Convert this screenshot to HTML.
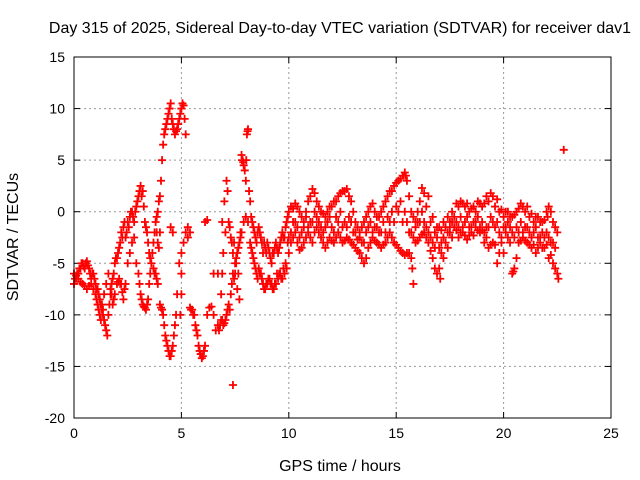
<!DOCTYPE html>
<html><head><meta charset="utf-8"><style>
body{margin:0;background:#fff;}
svg{display:block;font-family:"Liberation Sans",sans-serif;}
</style></head><body>
<svg id="chart" width="640" height="480">
<rect width="640" height="480" fill="#fff"/>
<text x="340" y="33" text-anchor="middle" font-size="16" fill="#000">Day 315 of 2025, Sidereal Day-to-day VTEC variation (SDTVAR) for receiver dav1</text>
<g id="grid"></g>
<g id="ticks"></g>
<g id="points"></g>
<rect x="74" y="57" width="537" height="361" fill="none" stroke="#000" stroke-width="1"/>
<text x="18" y="237" text-anchor="middle" font-size="16" transform="rotate(-90 18 237)">SDTVAR / TECUs</text>
<text x="340" y="471" text-anchor="middle" font-size="16">GPS time / hours</text>
</svg>
<script>
const xTicks=[0,5,10,15,20,25];
const yTicks=[15,10,5,0,-5,-10,-15,-20];
const t1=[0,0.1,0.2,0.3,0.4,0.5,0.6,0.7,0.8,0.9,1.0,1.1,1.2,1.3,1.4,1.5,1.6,1.7,1.8,1.9,2.0,2.1,2.2,2.3,2.4,2.5,2.6,2.7,2.8,2.9,3.0,3.1,3.2,3.3,3.4,3.5,3.6,3.7,3.8,3.9,4.0,4.05,4.1,4.15,4.2,4.3,4.4,4.5,4.55,4.6,4.7,4.8,4.9,5.0,5.1,5.15,5.2];
const v1=[-7,-6.5,-6,-5.5,-5,-5.5,-4.8,-5.5,-6.5,-6,-7,-7.5,-8.5,-9.5,-10.5,-11.5,-10,-8,-6.5,-5,-4.5,-3.5,-2,-1.5,-2.5,-1,-0.5,0,-1,0.5,1.5,2.5,2,-1,-2,-4,-5,-3,-1,0,1.5,3,5,6.5,7.5,8.5,9.5,10.5,9,8.5,7.5,8,9,10,10.3,9,7.5];
const t1b=[0.05,0.15,0.25,0.35,0.45,0.55,0.65,0.75,0.85,0.95,1.05,1.15,1.25,1.35,1.45,1.55,1.65,1.75,1.85,1.95,2.05,2.15,2.25,2.35,2.45,2.55,2.65,2.75,2.85,2.95,3.05,3.15,3.25,3.35,3.45,3.55,3.65,3.75,3.85,3.95,4.25,4.35,4.45,4.65,4.75,4.85,4.95,5.05];
const v1b=[-6.5,-6,-5.5,-5,-5.3,-5,-5.2,-6,-6,-6.5,-7.5,-8,-9,-10,-11,-12,-9,-7,-6,-4.5,-4,-3,-2.5,-1,-2,-1.5,0,-0.5,0,1,2,1.5,0.5,-1.5,-3,-4.5,-4,-2,-0.5,1,8,9,10,8,7.8,8.5,9.5,10.5];
const t2=[0,0.2,0.4,0.6,0.8,1.0,1.1,1.2,1.3,1.4,1.5,1.6,1.7,1.8,1.9,2.0,2.1,2.2,2.3,2.4,2.5,2.6,2.7,2.8,2.9,3.0,3.1,3.2,3.3,3.4,3.5,3.6,3.7,3.8,3.9,4.0,4.1,4.2,4.3,4.4,4.5,4.6,4.7,4.8,4.9,5.0,5.1,5.2,5.3,3.85,3.9,3.95,4.0,4.5,4.6,5.0,5.0,4.95];
const v2=[-6,-6.5,-7,-7.5,-7,-8,-9,-10,-9,-8,-7,-6,-7.5,-9,-8,-7,-6.5,-7,-8.5,-7,-5,-4,-3,-2.5,-5,-6,-8,-9,-9.3,-9,-7,-5,-5.5,-6,-7,-9,-9.5,-11,-12.5,-13.5,-14,-13,-11,-8,-5,-4,-3,-2,-2.5,-2,-3,-3.5,-2,-1.5,-2,-6,-8,-10];
const t2b=[0.1,0.3,0.5,0.7,0.9,1.05,1.15,1.25,1.35,1.75,1.85,2.05,2.15,2.25,2.35,3.05,3.15,3.25,3.35,3.45,3.55,3.75,3.85,4.05,4.15,4.25,4.35,4.45,4.55,4.65,4.75];
const v2b=[-6.2,-6.8,-7.2,-7.2,-7.5,-8.5,-9.5,-10.5,-9.5,-8,-8.5,-6.8,-7,-7.8,-7.5,-7,-8.5,-9.2,-9.5,-8.5,-6,-6,-6.5,-9.3,-10,-12,-13,-14,-13.5,-12,-10];
const t3=[5.4,5.5,5.6,5.7,5.8,5.9,6.0,6.1,6.2,6.3,6.4,6.5,6.6,6.7,6.8,6.9,7.0,7.1,7.2,7.3,7.4,7.5,7.6,7.7,7.8,7.9,8.0,8.1,8.2,8.3,8.4,8.5,8.6,8.7,8.8,8.9,9.0,9.1,9.2,9.3,9.4,9.5,9.6,9.7,9.8,9.9,10.0,7.4];
const v3=[-9.3,-9.5,-10,-11.5,-13,-13.8,-14,-13,-10,-9.3,-9.2,-10,-11.5,-11,-11,-10.5,-10.8,-10,-9,-8,-6,-5,-4,-3,-2,-1,-0.5,-1,-3,-4,-5,-6,-5.5,-6,-7,-7.5,-7,-6.5,-7,-7.5,-7,-6.5,-6,-6.5,-6,-5.5,-4,-16.8];
const t3b=[5.45,5.55,5.65,5.75,5.85,5.95,6.05,6.75,6.85,6.95,7.05,7.15,7.25,7.35,7.45,7.55,7.65,7.75,8.25,8.35,8.45,8.55,8.65,8.75,8.85,8.95,9.05,9.15,9.25,9.35,9.45,9.55,9.65,9.75,9.85,9.95];
const v3b=[-9.5,-10,-11,-12,-13.5,-14.2,-13.5,-11.5,-10.5,-11,-10.5,-9.5,-9.5,-7,-6.5,-4.5,-3.5,-2.5,-3.5,-4.5,-5.5,-6.5,-6,-6.5,-7.5,-7,-6.5,-7,-7.5,-7,-6,-6,-6.5,-5.5,-5,-3];
const t4=[5.3,5.4,6.1,6.2,6.5,6.7,6.9,7.0,7.1,7.15,7.2,7.3,7.4,7.5,7.6,7.7,7.8,7.85,7.9,7.95,8.0,8.05,8.1,8.15,8.2,8.3,8.4,8.5,8.6,8.7,8.8,8.9,9.0,9.1,9.2,9.3,9.4,9.5,9.6,9.7,9.8,9.9,10.0,6.85,6.9,6.95,7.05];
const v4=[-1.5,-2,-1,-0.8,-6,-6,-1,1,3,2,-1,-2.5,-4,-6,-7.5,-8.5,5.5,5,4.5,4,3,7.5,8,2,1,-1,-2,-3,-1.5,-2.5,-4,-3.5,-3,-4,-5,-4,-3,-4,-3,-2,-2.5,-1,0,-8,-6,-4,-2];
const t4b=[7.25,7.35,7.45,7.55,7.65,7.75,7.82,7.88,8.02,8.08,8.25,8.35,8.45,8.55,8.65,8.75,8.85,8.95,9.05,9.15,9.25,9.35,9.45,9.55,9.65,9.75,9.85,9.95];
const v4b=[-1.5,-3,-3,-5,-6,-2,5,4.8,5,7.8,-0.5,-1.5,-2.5,-2,-2,-3,-3,-4,-3.5,-4.5,-4,-3.5,-3.5,-3.5,-2.5,-2.5,-1.5,-0.5];
const tU=[10.1,10.3,10.5,10.7,10.9,11.1,11.3,11.5,11.7,11.9,12.1,12.3,12.5,12.7,12.9,13.1,13.3,13.5,13.7,13.9,14.1,14.3,14.5,14.7,14.9,15.1,15.3,15.4,15.5,15.7,15.9,16.1,16.2,16.4,16.6,16.8,17.0,17.2,17.4,17.6,17.8,18.0,18.2,18.4,18.6,18.8,19.0,19.2,19.4,19.6,19.8,20.0,20.2,20.4,20.6,20.8,21.0,21.2,21.4,21.6,21.8,22.0,22.1,22.3,22.5,22.8];
const vU=[0.5,0.8,0,-1,1,2.2,1,0,-0.5,0.5,1,1.5,2,2.2,1,-1,-2,-1,0,0.8,-0.5,0,1,2,2.5,3,3.5,3.8,3,0,-1,1,2.3,0.5,-1,-2,-1.5,-1,-0.5,0,0.8,1,0.5,0,0.5,1,0.5,1.5,1.8,0.5,0,-0.5,0,-0.5,0,0.8,0,-0.5,-1,-0.5,-1,0,0.5,-1,-2,6];
const tU2=[10.0,10.2,10.4,10.6,10.8,11.0,11.2,11.4,11.6,11.8,12.0,12.2,12.4,12.6,12.8,13.0,13.2,13.4,13.6,13.8,14.0,14.2,14.4,14.6,14.8,15.0,15.2,15.35,15.45,15.6,15.8,16.0,16.3,16.5,16.7,16.9,17.1,17.3,17.5,17.7,17.9,18.1,18.3,18.5,18.7,18.9,19.1,19.3,19.5,19.7,19.9,20.1,20.3,20.5,20.7,20.9,21.1,21.3,21.5,21.7,21.9,22.05,22.2,22.4];
const vU2=[0,0.3,0.5,-0.5,0,1.5,1.8,0.5,-0.2,0,0.5,1,1.8,2,1.5,0,-1.5,-1.5,-0.5,0.5,0,-0.5,0.5,1.5,2,2.8,3.2,3.5,3.5,1.5,-0.5,0,1.8,1.5,-0.5,-1.5,-1.8,-1.5,-1,-0.5,0.5,0.8,0.8,0.3,0,0.8,0.8,1,1.5,1.2,0.2,0,-0.5,-0.3,0.3,0.5,0.5,-0.2,-0.5,-1,-0.8,-0.5,0,-1.5];
const tL=[10.1,10.3,10.5,10.7,10.9,11.1,11.3,11.5,11.7,11.9,12.1,12.3,12.5,12.7,12.9,13.1,13.3,13.5,13.7,13.9,14.1,14.3,14.5,14.7,14.9,15.1,15.3,15.5,15.7,15.8,15.9,16.1,16.3,16.5,16.7,16.9,17.0,17.1,17.3,17.5,17.7,17.9,18.1,18.3,18.5,18.7,18.9,19.1,19.3,19.5,19.7,19.9,20.1,20.3,20.4,20.5,20.7,20.9,21.1,21.3,21.5,21.7,21.9,22.1,22.3,22.5];
const vL=[-3,-2,-3.7,-3,-2,-3,-1.5,-2.5,-3.5,-2.5,-3,-2,-3,-2.5,-3,-3.5,-4,-5,-3.5,-2.5,-3,-3.5,-3,-2,-3,-3.5,-4,-4,-4.5,-7,-3,-2.5,-2,-3,-4.5,-6,-5.5,-4,-3,-2,-1.5,-2.5,-2,-2.7,-2,-1.5,-2,-3,-3.5,-3,-5,-3,-2,-3,-6,-5.5,-3,-2.5,-3,-3.5,-4,-3,-3.5,-4.5,-5,-6];
const tL2=[10.0,10.2,10.4,10.6,10.8,11.0,11.2,11.4,11.6,11.8,12.0,12.2,12.4,12.6,12.8,13.0,13.2,13.4,13.6,13.8,14.0,14.2,14.4,14.6,14.8,15.0,15.2,15.4,15.6,15.75,16.0,16.2,16.4,16.6,16.8,17.05,17.2,17.4,17.6,17.8,18.0,18.2,18.4,18.6,18.8,19.0,19.2,19.4,19.6,19.8,20.0,20.2,20.45,20.6,20.8,21.0,21.2,21.4,21.6,21.8,22.0,22.2,22.4,22.55];
const vL2=[-2.5,-2.5,-3,-3.5,-2.5,-2.5,-2,-2,-3,-3,-2.8,-2.5,-2.5,-2.8,-2.7,-3.2,-3.8,-4.5,-4.5,-3,-2.8,-3.2,-3.2,-2.5,-2.5,-3.2,-3.8,-4.2,-4,-5.5,-2.8,-2.2,-2.5,-3.8,-5.5,-6.5,-4.5,-3.5,-2.5,-1.8,-2,-2.3,-2.3,-2.3,-1.8,-1.8,-2.5,-3.2,-3.2,-4,-4,-2.5,-5.8,-4.5,-2.8,-2.8,-3.2,-3.2,-3.5,-3.5,-3.2,-4.2,-5.5,-6.5];
const tM=[10.2,10.4,10.6,10.8,11.0,11.2,11.4,11.6,11.8,12.0,12.2,12.4,12.6,12.8,13.0,13.2,13.4,13.6,13.8,14.0,14.2,14.4,14.6,14.8,15.0,15.2,15.4,15.6,15.8,16.0,16.2,16.4,16.6,16.8,17.0,17.2,17.4,17.6,17.8,18.0,18.2,18.4,18.6,18.8,19.0,19.2,19.4,19.6,19.8,20.0,20.2,20.4,20.6,20.8,21.0,21.2,21.4,21.6,21.8,22.0,22.2,22.4];
const vM=[-1,-1.5,-2,-0.5,-1,0,-1,-2,-1,-1.5,-0.5,0,-1,-0.5,-2,-2.7,-3,-2,-1,-1.5,-2,-1,-0.5,0,0.5,1,0,-2,-2.5,-1,0,-1.5,-2.5,-3.5,-3.5,-2.5,-2,-1,-1,-0.5,-1,-1.5,-1,-0.5,-1,-1.5,-0.5,-1.5,-2,-1.5,-1,-2,-1.5,-1,-1.5,-2,-2,-2.5,-2,-2,-3,-3.5];
const tM2=[10.1,10.3,10.5,10.7,10.9,11.1,11.3,11.5,11.7,11.9,12.1,12.3,12.5,12.7,12.9,13.1,13.3,13.5,13.7,13.9,14.1,14.3,14.5,14.7,14.9,15.1,15.3,15.5,15.7,15.9,16.1,16.3,16.5,16.7,16.9,17.1,17.3,17.5,17.7,17.9,18.1,18.3,18.5,18.7,18.9,19.1,19.3,19.5,19.7,19.9,20.1,20.3,20.5,20.7,20.9,21.1,21.3,21.5,21.7,21.9,22.1,22.3];
const vM2=[-2,-1,-2.5,-1.5,-1.5,-1,-0.5,-1.5,-1.5,-0.5,-2,-1,-1.5,-1.5,-1,-2,-2.5,-3,-1.5,-2,-1.5,-2,-2,-1,-1,0,-1,-1,-2,-1.5,-1,-1,-2,-3,-2.5,-3,-1.5,-1.5,-0.5,-1.5,-1.5,-0.5,-1.5,-1,-1.5,-2,-1.5,-1,-1,-2.5,-1.5,-1.5,-2.5,-2,-2,-1.5,-2.5,-1.5,-2.5,-2.5,-2.5,-3];
const series=[[t1,v1],[t1b,v1b],[t2,v2],[t2b,v2b],[t3,v3],[t3b,v3b],[t4,v4],[t4b,v4b],[tU,vU],[tU2,vU2],[tL,vL],[tL2,vL2],[tM,vM],[tM2,vM2]];

const X0=74,X1=611,Y0=418,Y1=57;
function xs(t){return X0+(t-0)/(25-0)*(X1-X0);}
function ys(v){return Y0-(v-(-20))/(15-(-20))*(Y0-Y1);}
const NS='http://www.w3.org/2000/svg';
const grid=document.getElementById('grid'),ticks=document.getElementById('ticks'),pts=document.getElementById('points');
function mk(tag,attrs,parent){const e=document.createElementNS(NS,tag);for(const k in attrs)e.setAttribute(k,attrs[k]);parent.appendChild(e);return e;}
xTicks.forEach(t=>{
  const x=xs(t);
  if(t>0&&t<25){const g=mk('line',{x1:x,x2:x,y1:Y1,y2:Y0,stroke:'#999','stroke-dasharray':'2,3'},grid);
  
  }
  mk('line',{x1:x,x2:x,y1:Y0,y2:Y0-6,stroke:'#000'},ticks);
  mk('line',{x1:x,x2:x,y1:Y1,y2:Y1+6,stroke:'#000'},ticks);
  const l=mk('text',{x:x,y:Y0+20,'text-anchor':'middle','font-size':'14'},ticks);l.textContent=t;
  
  
});
yTicks.forEach(v=>{
  const y=ys(v);
  if(v>-20&&v<15){const g=mk('line',{x1:X0,x2:X1,y1:y,y2:y,stroke:'#999','stroke-dasharray':'2,3'},grid);
  
  }
  mk('line',{x1:X0,x2:X0+6,y1:y,y2:y,stroke:'#000'},ticks);
  mk('line',{x1:X1,x2:X1-6,y1:y,y2:y,stroke:'#000'},ticks);
  const l=mk('text',{x:X0-9,y:y+5,'text-anchor':'end','font-size':'14'},ticks);l.textContent=v;
  
  
});
let d='';
series.forEach(([ts,vs])=>{ts.forEach((t,i)=>{const x=xs(t),y=ys(vs[i]);d+=`M${x-4} ${y}h8M${x} ${y-4}v8`;});});
const p=mk('path',{d:d,stroke:'#f00','stroke-width':'1.8',fill:'none'},pts);


</script>
</body></html>
